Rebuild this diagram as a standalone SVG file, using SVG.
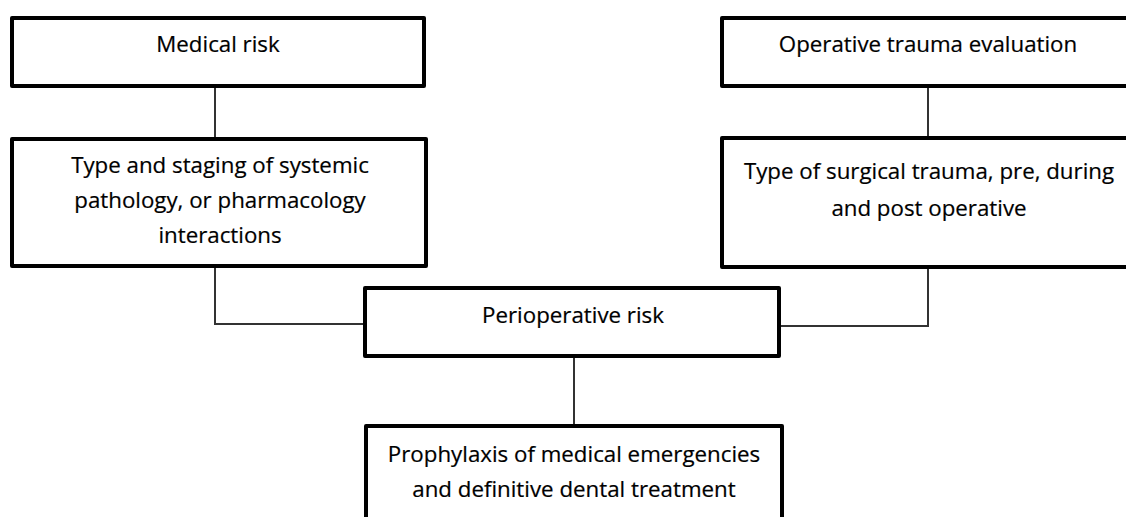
<svg xmlns="http://www.w3.org/2000/svg" width="1126" height="517" viewBox="0 0 1126 517">
  <style>
    .box { fill: #ffffff; stroke: #000000; stroke-width: 4; stroke-linejoin: round; }
    .lbl { font-family: "Open Sans", Lato, "Liberation Sans", sans-serif; font-size: 22.3px; fill: #000000; stroke: #000000; stroke-width: 0.2; text-anchor: middle; font-variant-ligatures: none; }
    .conn { fill: none; stroke: #333333; stroke-width: 2; }
  </style>
  <rect x="0" y="0" width="1126" height="517" fill="#ffffff"/>
  <g id="connectors">
    <line class="conn" x1="215" y1="86" x2="215" y2="139"/>
    <line class="conn" x1="928" y1="86" x2="928" y2="138"/>
    <polyline class="conn" points="215,266 215,324 365,324"/>
    <polyline class="conn" points="928,267 928,326 779,326"/>
    <line class="conn" x1="574" y1="356" x2="574" y2="426"/>
  </g>
  <g id="medical-risk">
    <rect class="box" x="12" y="18" width="412" height="68"/>
    <text class="lbl" x="218" y="52">Medical risk</text>
  </g>
  <g id="operative-trauma">
    <rect class="box" x="722" y="18" width="412" height="68"/>
    <text class="lbl" x="928" y="52">Operative trauma evaluation</text>
  </g>
  <g id="systemic-pathology">
    <rect class="box" x="12" y="139" width="414" height="127"/>
    <text class="lbl" x="220" y="173">Type and staging of systemic</text>
    <text class="lbl" x="220" y="208">pathology, or pharmacology</text>
    <text class="lbl" x="220" y="243">interactions</text>
  </g>
  <g id="surgical-trauma">
    <rect class="box" x="722" y="138" width="412" height="129"/>
    <text class="lbl" x="929" y="179">Type of surgical trauma, pre, during</text>
    <text class="lbl" x="929" y="216">and post operative</text>
  </g>
  <g id="perioperative-risk">
    <rect class="box" x="365" y="288" width="414" height="68"/>
    <text class="lbl" x="573" y="323">Perioperative risk</text>
  </g>
  <g id="prophylaxis">
    <rect class="box" x="366" y="426" width="416" height="120"/>
    <text class="lbl" x="574" y="462">Prophylaxis of medical emergencies</text>
    <text class="lbl" x="574" y="497">and definitive dental treatment</text>
  </g>
</svg>
